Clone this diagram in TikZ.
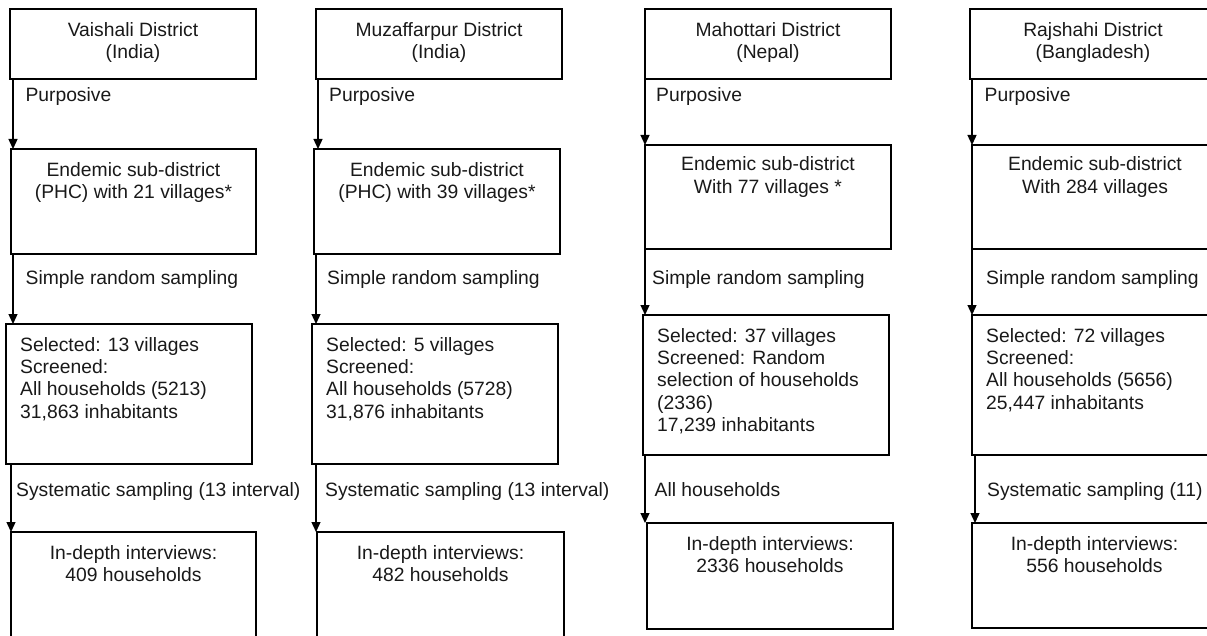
\documentclass[tikz,border=0pt]{standalone}
\usepackage{fontspec}
\setmainfont{Liberation Sans}
\usetikzlibrary{arrows.meta}
\newcommand\mybox[5]{\node[box, minimum width={(#4-#2)*1pt}, minimum height={(#5-#3)*1pt}] (#1) at (#2,#3) {};}
\begin{document}
\begin{tikzpicture}[x=1pt,y=-1pt,
  box/.style={draw, line width=1.3pt, rectangle, inner sep=0pt, outer sep=0pt, anchor=north west},
  txt/.style={inner sep=0pt, font=\fontsize{19.3}{22.3}\selectfont, text=black!90},
  ctext/.style={txt, anchor=north, align=center},
  ltext/.style={txt, anchor=north west, align=left},
  lab/.style={txt, anchor=base west},
  arr/.style={line width=1.3pt, -{Triangle[width=9pt,length=10pt]}},
]
\useasboundingbox (0,0) rectangle (1207,636);
\clip (0,0) rectangle (1207,636);
% ---------- column 1 ----------
\mybox{b11}{10}{9}{256}{79}
\mybox{b12}{11}{149}{256}{254}
\mybox{b13}{6}{324}{252}{464}
\mybox{b14}{11}{532}{256}{660}
\node[ctext] (t11) at ([yshift=-11.4pt]b11.north) {\strut Vaishali District\\(India)};
\node[ctext] (t12) at ([yshift=-11.4pt]b12.north) {\strut Endemic sub-district\\(PHC) with 21 villages*};
\node[ltext] (t13) at ([xshift=14pt,yshift=-11.4pt]b13.north west) {\strut Selected: 13 villages\\Screened:\\All households (5213)\\31,863 inhabitants};
\node[ctext] (t14) at ([yshift=-11.4pt]b14.north) {\strut In-depth interviews:\\409 households};
\node[lab] (l11) at (25.3,102) {Purposive};
\node[lab] (l12) at (25.5,284) {Simple random sampling};
\node[lab] (l13) at (16,496.5) {Systematic sampling (13 interval)};
\coordinate (a11) at ([xshift=3pt]b11.south west);
\coordinate (a12) at ([xshift=2pt]b12.south west);
\coordinate (a13) at ([xshift=5pt]b13.south west);
\draw[arr] (a11) -- (a11 |- b12.north);
\draw[arr] (a12) -- (a12 |- b13.north);
\draw[arr] (a13) -- (a13 |- b14.north);
% ---------- column 2 ----------
\mybox{b21}{316}{9}{562}{79}
\mybox{b22}{314}{149}{560}{254}
\mybox{b23}{312}{324}{558}{464}
\mybox{b24}{317}{532}{564}{660}
\node[ctext] (t21) at ([yshift=-11.4pt]b21.north) {\strut Muzaffarpur District\\(India)};
\node[ctext] (t22) at ([yshift=-11.4pt]b22.north) {\strut Endemic sub-district\\(PHC) with 39 villages*};
\node[ltext] (t23) at ([xshift=14pt,yshift=-11.4pt]b23.north west) {\strut Selected: 5 villages\\Screened:\\All households (5728)\\31,876 inhabitants};
\node[ctext] (t24) at ([yshift=-11.4pt]b24.north) {\strut In-depth interviews:\\482 households};
\node[lab] (l21) at (329,102) {Purposive};
\node[lab] (l22) at (327,284) {Simple random sampling};
\node[lab] (l23) at (325,496.5) {Systematic sampling (13 interval)};
\coordinate (a21) at ([xshift=2pt]b21.south west);
\coordinate (a22) at ([xshift=2pt]b22.south west);
\coordinate (a23) at ([xshift=4pt]b23.south west);
\draw[arr] (a21) -- (a21 |- b22.north);
\draw[arr] (a22) -- (a22 |- b23.north);
\draw[arr] (a23) -- (a23 |- b24.north);
% ---------- column 3 ----------
\mybox{b31}{645}{9}{891}{79}
\mybox{b32}{645}{145}{891}{249}
\mybox{b33}{643}{315}{889}{455}
\mybox{b34}{647}{523}{893}{629}
\node[ctext] (t31) at ([yshift=-11.4pt]b31.north) {\strut Mahottari District\\(Nepal)};
\node[ctext] (t32) at ([yshift=-10pt]b32.north) {\strut Endemic sub-district\\With 77 villages *};
\node[ltext] (t33) at ([xshift=14pt,yshift=-11.4pt]b33.north west) {\strut Selected: 37 villages\\Screened: Random\\selection of households\\(2336)\\17,239 inhabitants};
\node[ctext] (t34) at ([yshift=-11.4pt]b34.north) {\strut In-depth interviews:\\2336 households};
\node[lab] (l31) at (656,102) {Purposive};
\node[lab] (l32) at (652,284) {Simple random sampling};
\node[lab] (l33) at (654.5,496.5) {All households};
\coordinate (a31) at (b31.south west);
\coordinate (a32) at (b32.south west);
\coordinate (a33) at ([xshift=2pt]b33.south west);
\draw[arr] (a31) -- (a31 |- b32.north);
\draw[arr] (a32) -- (a32 |- b33.north);
\draw[arr] (a33) -- (a33 |- b34.north);
% ---------- column 4 ----------
\mybox{b41}{970}{9}{1216}{79}
\mybox{b42}{972}{145}{1218}{249}
\mybox{b43}{972}{315}{1218}{455}
\mybox{b44}{972}{523}{1217}{628}
\node[ctext] (t41) at ([yshift=-11.4pt]b41.north) {\strut Rajshahi District\\(Bangladesh)};
\node[ctext] (t42) at ([yshift=-10pt]b42.north) {\strut Endemic sub-district\\With 284 villages};
\node[ltext] (t43) at ([xshift=14pt,yshift=-11.4pt]b43.north west) {\strut Selected: 72 villages\\Screened:\\All households (5656)\\25,447 inhabitants};
\node[ctext] (t44) at ([yshift=-11.4pt]b44.north) {\strut In-depth interviews:\\556 households};
\node[lab] (l41) at (984.5,102) {Purposive};
\node[lab] (l42) at (986,284) {Simple random sampling};
\node[lab] (l43) at (987,496.5) {Systematic sampling (11)};
\coordinate (a41) at ([xshift=2pt]b41.south west);
\coordinate (a42) at (b42.south west);
\coordinate (a43) at ([xshift=3pt]b43.south west);
\draw[arr] (a41) -- (a41 |- b42.north);
\draw[arr] (a42) -- (a42 |- b43.north);
\draw[arr] (a43) -- (a43 |- b44.north);
\end{tikzpicture}
\end{document}
